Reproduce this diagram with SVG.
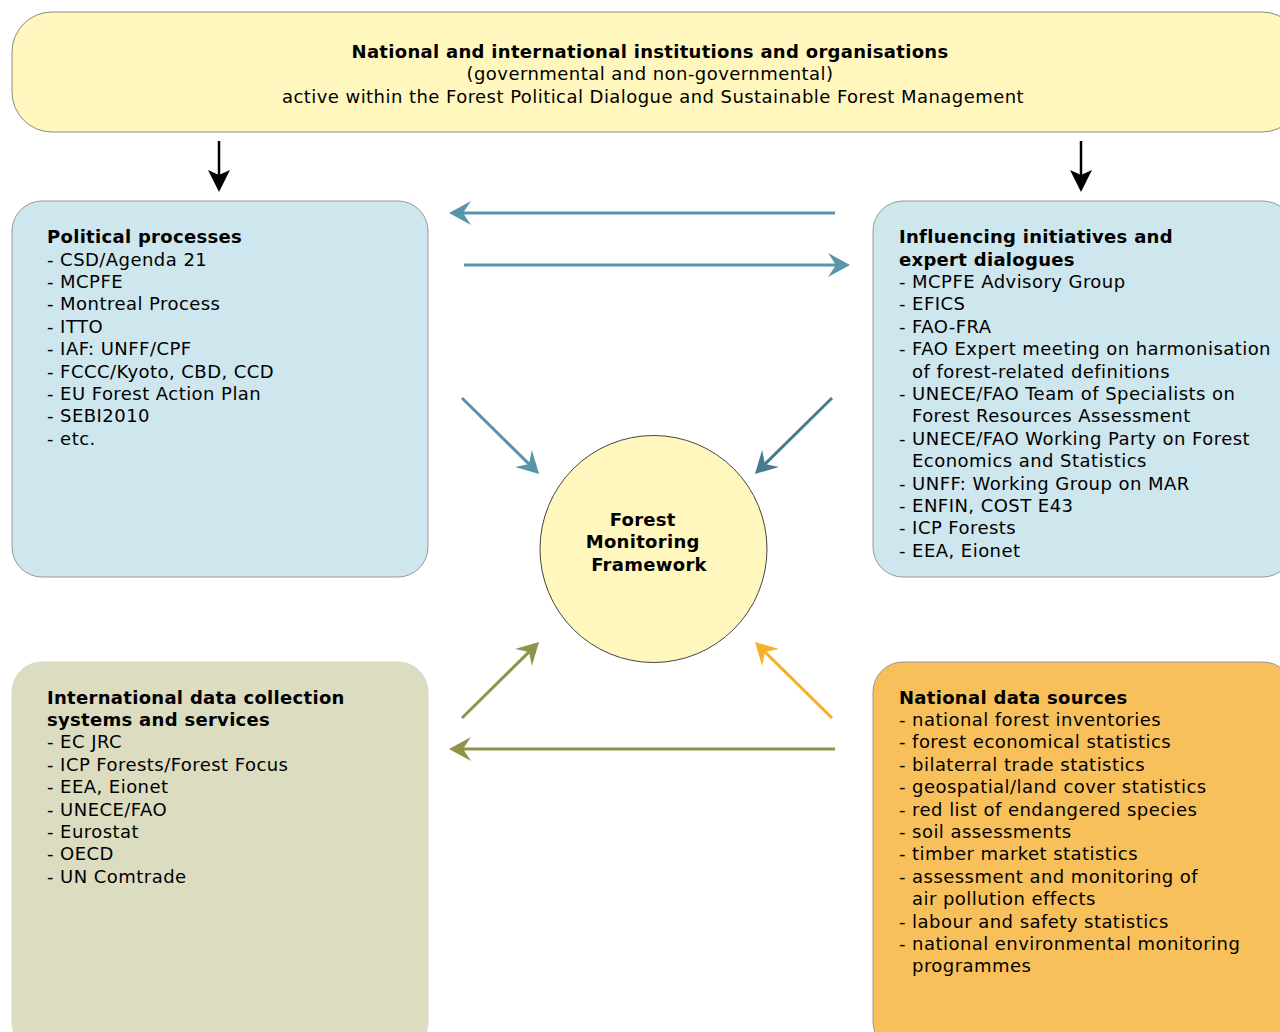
<svg xmlns="http://www.w3.org/2000/svg" width="1280" height="1032" viewBox="0 0 1280 1032">
  <style>
    .t { font-family: "DejaVu Sans", Verdana, sans-serif; font-size: 18px; fill: #000; letter-spacing: 0.45px; }
    .b { font-weight: bold; letter-spacing: 0.3px; }
    .box { stroke-width: 1; }
    .ln { fill: none; stroke-width: 3; }
  </style>
  <defs>
    <marker id="hBlue" viewBox="0 0 22 24" refX="8" refY="12" markerWidth="22" markerHeight="24" markerUnits="userSpaceOnUse" orient="auto">
      <path d="M0,0 L22,12 L0,24 L8,12 Z" fill="#5795AA"/>
    </marker>
    <marker id="hDark" viewBox="0 0 22 24" refX="8" refY="12" markerWidth="22" markerHeight="24" markerUnits="userSpaceOnUse" orient="auto">
      <path d="M0,0 L22,12 L0,24 L8,12 Z" fill="#487B90"/>
    </marker>
    <marker id="hOlive" viewBox="0 0 22 24" refX="8" refY="12" markerWidth="22" markerHeight="24" markerUnits="userSpaceOnUse" orient="auto">
      <path d="M0,0 L22,12 L0,24 L8,12 Z" fill="#8F9249"/>
    </marker>
    <marker id="hOrange" viewBox="0 0 22 24" refX="8" refY="12" markerWidth="22" markerHeight="24" markerUnits="userSpaceOnUse" orient="auto">
      <path d="M0,0 L22,12 L0,24 L8,12 Z" fill="#F6B027"/>
    </marker>
    <marker id="hBlack" viewBox="0 0 22 22" refX="5" refY="11" markerWidth="22" markerHeight="22" markerUnits="userSpaceOnUse" orient="auto">
      <path d="M0,0 L22,11 L0,22 L5,11 Z" fill="#000"/>
    </marker>
  </defs>

  <rect width="1280" height="1032" fill="#fff"/>

  <!-- top banner -->
  <g id="institutions">
    <rect class="box" x="12" y="12" width="1290" height="120" rx="40" ry="40" fill="#FFF7BE" stroke="#8A8A7A"/>
    <text class="t b" x="650" y="58" text-anchor="middle">National and international institutions and organisations</text>
    <text class="t" x="650" y="80" text-anchor="middle">(governmental and non-governmental)</text>
    <text class="t" x="653" y="103" text-anchor="middle">active within the Forest Political Dialogue and Sustainable Forest Management</text>
  </g>

  <!-- political processes -->
  <g id="political">
    <rect class="box" x="12" y="201" width="416" height="376" rx="30" ry="30" fill="#CEE6ED" stroke="#999"/>
    <text class="t" x="47">
      <tspan class="b" x="47" y="243">Political processes</tspan>
      <tspan x="47" y="266">- CSD/Agenda 21</tspan>
      <tspan x="47" y="288">- MCPFE</tspan>
      <tspan x="47" y="310">- Montreal Process</tspan>
      <tspan x="47" y="333">- ITTO</tspan>
      <tspan x="47" y="355">- IAF: UNFF/CPF</tspan>
      <tspan x="47" y="378">- FCCC/Kyoto, CBD, CCD</tspan>
      <tspan x="47" y="400">- EU Forest Action Plan</tspan>
      <tspan x="47" y="422">- SEBI2010</tspan>
      <tspan x="47" y="445">- etc.</tspan>
    </text>
  </g>

  <!-- influencing initiatives -->
  <g id="influencing">
    <rect class="box" x="873" y="201" width="420" height="376" rx="30" ry="30" fill="#CEE6ED" stroke="#999"/>
    <text class="t">
      <tspan class="b" x="899" y="243">Influencing initiatives and</tspan>
      <tspan class="b" x="899" y="266">expert dialogues</tspan>
      <tspan x="899" y="288">- MCPFE Advisory Group</tspan>
      <tspan x="899" y="310">- EFICS</tspan>
      <tspan x="899" y="333">- FAO-FRA</tspan>
      <tspan x="899" y="355">- FAO Expert meeting on harmonisation</tspan>
      <tspan x="912" y="378">of forest-related definitions</tspan>
      <tspan x="899" y="400">- UNECE/FAO Team of Specialists on</tspan>
      <tspan x="912" y="422">Forest Resources Assessment</tspan>
      <tspan x="899" y="445">- UNECE/FAO Working Party on Forest</tspan>
      <tspan x="912" y="467">Economics and Statistics</tspan>
      <tspan x="899" y="490">- UNFF: Working Group on MAR</tspan>
      <tspan x="899" y="512">- ENFIN, COST E43</tspan>
      <tspan x="899" y="534">- ICP Forests</tspan>
      <tspan x="899" y="557">- EEA, Eionet</tspan>
    </text>
  </g>

  <!-- international data collection -->
  <g id="international">
    <rect class="box" x="12" y="662" width="416" height="390" rx="30" ry="30" fill="#DCDCC1" stroke="#D8D8C8"/>
    <text class="t">
      <tspan class="b" x="47" y="704">International data collection</tspan>
      <tspan class="b" x="47" y="726">systems and services</tspan>
      <tspan x="47" y="748">- EC JRC</tspan>
      <tspan x="47" y="771">- ICP Forests/Forest Focus</tspan>
      <tspan x="47" y="793">- EEA, Eionet</tspan>
      <tspan x="47" y="816">- UNECE/FAO</tspan>
      <tspan x="47" y="838">- Eurostat</tspan>
      <tspan x="47" y="860">- OECD</tspan>
      <tspan x="47" y="883">- UN Comtrade</tspan>
    </text>
  </g>

  <!-- national data sources -->
  <g id="national">
    <rect class="box" x="873" y="662" width="420" height="390" rx="30" ry="30" fill="#F8C05A" stroke="#999"/>
    <text class="t">
      <tspan class="b" x="899" y="704">National data sources</tspan>
      <tspan x="899" y="726">- national forest inventories</tspan>
      <tspan x="899" y="748">- forest economical statistics</tspan>
      <tspan x="899" y="771">- bilaterral trade statistics</tspan>
      <tspan x="899" y="793">- geospatial/land cover statistics</tspan>
      <tspan x="899" y="816">- red list of endangered species</tspan>
      <tspan x="899" y="838">- soil assessments</tspan>
      <tspan x="899" y="860">- timber market statistics</tspan>
      <tspan x="899" y="883">- assessment and monitoring of</tspan>
      <tspan x="912" y="905">air pollution effects</tspan>
      <tspan x="899" y="928">- labour and safety statistics</tspan>
      <tspan x="899" y="950">- national environmental monitoring</tspan>
      <tspan x="912" y="972">programmes</tspan>
    </text>
  </g>

  <!-- central framework -->
  <g id="framework">
    <circle cx="653.5" cy="549" r="113.5" fill="#FFF7BD" stroke="#444" stroke-width="1"/>
    <text class="t b" text-anchor="middle">
      <tspan x="646" y="526">Forest</tspan>
      <tspan x="646" y="548">Monitoring</tspan>
      <tspan x="649" y="571">Framework</tspan>
    </text>
  </g>

  <!-- connectors -->
  <g id="connectors">
    <line x1="219" y1="141" x2="219" y2="175" stroke="#000" stroke-width="2.5" marker-end="url(#hBlack)"/>
    <line x1="1081" y1="141" x2="1081" y2="175" stroke="#000" stroke-width="2.5" marker-end="url(#hBlack)"/>
    <line class="ln" x1="835" y1="213" x2="463" y2="213" stroke="#5795AA" marker-end="url(#hBlue)"/>
    <line class="ln" x1="464" y1="265" x2="836" y2="265" stroke="#5795AA" marker-end="url(#hBlue)"/>
    <line class="ln" x1="462" y1="398" x2="529.1" y2="464.1" stroke="#5795AA" marker-end="url(#hBlue)"/>
    <line class="ln" x1="832" y1="398" x2="764.9" y2="464.1" stroke="#487B90" marker-end="url(#hDark)"/>
    <line class="ln" x1="462" y1="718" x2="529.1" y2="651.9" stroke="#8F9249" marker-end="url(#hOlive)"/>
    <line class="ln" x1="832" y1="718" x2="764.9" y2="651.9" stroke="#F6B027" marker-end="url(#hOrange)"/>
    <line class="ln" x1="835" y1="749" x2="463" y2="749" stroke="#8F9249" marker-end="url(#hOlive)"/>
  </g>
</svg>
